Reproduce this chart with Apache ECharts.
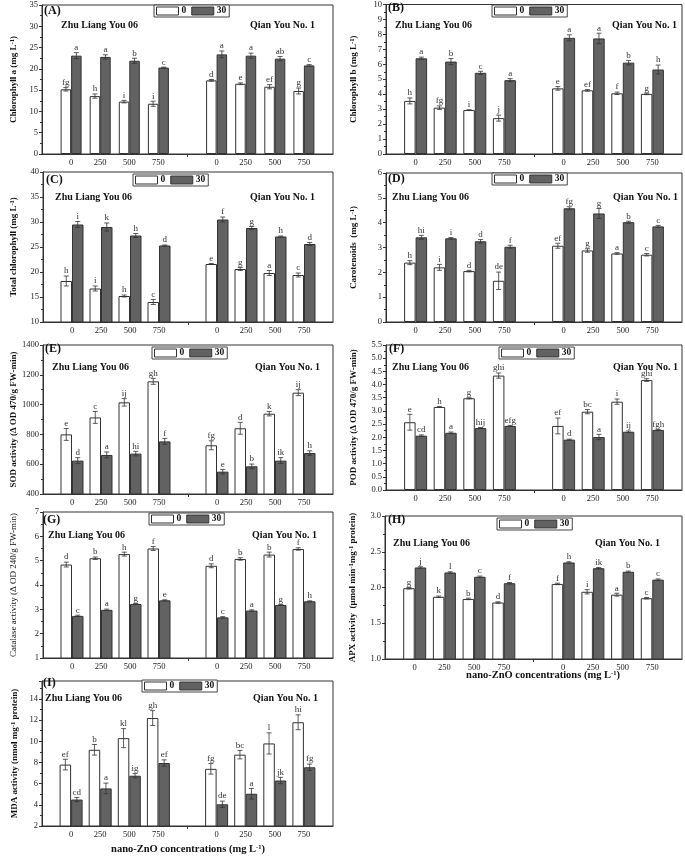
<!DOCTYPE html>
<html><head><meta charset="utf-8">
<script src="https://cdn.jsdelivr.net/npm/echarts@6/dist/echarts.min.js"></script>
<style>html,body{margin:0;padding:0;background:#fff}#c{width:685px;height:858px}</style>
</head><body><div id="c"></div>
<script>
// ---------------- DATA ----------------
const SERIES_NAMES = ['0', '30'];
const CONC = ['0', '250', '500', '750'];
const CULTIVARS = ['Zhu Liang You 06', 'Qian You No. 1'];
// each array: 4 values for Zhu Liang You 06 (0,250,500,750), then 4 for Qian You No. 1

// (A) Chlorophyll a
const A_val0  = [15.2, 13.6, 12.3, 11.8, 17.3, 16.5, 15.8, 14.8];
const A_err0  = [0.4, 0.5, 0.3, 0.6, 0.2, 0.2, 0.5, 0.7];
const A_let0  = ['fg','h','i','i','d','e','ef','g'];
const A_val30 = [23.1, 22.8, 21.9, 20.3, 23.4, 23.1, 22.4, 20.8];
const A_err30 = [0.7, 0.5, 0.6, 0.1, 0.8, 0.6, 0.5, 0.2];
const A_let30 = ['a','a','b','c','a','a','ab','c'];

// (B) Chlorophyll b
const B_val0  = [3.55, 3.1, 2.94, 2.4, 4.39, 4.26, 4.06, 4.02];
const B_err0  = [0.2, 0.12, 0.02, 0.2, 0.12, 0.05, 0.08, 0.05];
const B_let0  = ['h','fg','i','j','e','ef','f','g'];
const B_val30 = [6.4, 6.18, 5.43, 4.94, 7.77, 7.73, 6.11, 5.65];
const B_err30 = [0.08, 0.2, 0.1, 0.1, 0.2, 0.35, 0.15, 0.3];
const B_let30 = ['a','b','c','a','a','a','b','h'];

// (C) Total chlorophyll
const C_val0  = [18.2, 16.7, 15.2, 14.0, 21.6, 20.6, 19.8, 19.4];
const C_err0  = [1.0, 0.5, 0.2, 0.5, 0.1, 0.3, 0.5, 0.4];
const C_let0  = ['h','i','h','c','e','g','a','c'];
const C_val30 = [29.5, 29.0, 27.3, 25.3, 30.5, 28.8, 27.1, 25.6];
const C_err30 = [0.6, 0.8, 0.4, 0.1, 0.5, 0.3, 0.1, 0.3];
const C_let30 = ['i','k','h','d','f','g','h','d'];

// (D) Carotenoids
const D_val0  = [2.39, 2.2, 2.05, 1.66, 3.07, 2.88, 2.76, 2.71];
const D_err0  = [0.08, 0.12, 0.03, 0.35, 0.1, 0.07, 0.03, 0.05];
const D_let0  = ['h','i','d','de','ef','g','a','c'];
const D_val30 = [3.41, 3.37, 3.25, 3.03, 4.58, 4.37, 4.02, 3.85];
const D_err30 = [0.08, 0.03, 0.07, 0.06, 0.06, 0.2, 0.04, 0.04];
const D_let30 = ['hi','i','d','f','fg','g','b','c'];

// (E) SOD activity
const E_val0  = [800, 914, 1015, 1156, 727, 841, 939, 1080];
const E_err0  = [40, 40, 25, 20, 30, 40, 15, 20];
const E_let0  = ['e','c','ij','gh','fg','d','k','ij'];
const E_val30 = [624, 662, 671, 753, 550, 586, 624, 675];
const E_err30 = [20, 20, 15, 20, 15, 15, 20, 15];
const E_let30 = ['d','a','hi','f','e','b','ik','h'];

// (F) POD activity
const F_val0  = [2.57, 3.15, 3.48, 4.34, 2.43, 2.97, 3.35, 4.17];
const F_err0  = [0.3, 0.02, 0.02, 0.1, 0.3, 0.08, 0.1, 0.05];
const F_let0  = ['e','h','g','ghi','ef','bc','i','ghi'];
const F_val30 = [2.06, 2.17, 2.35, 2.43, 1.91, 2.01, 2.21, 2.28];
const F_err30 = [0.03, 0.03, 0.02, 0.02, 0.02, 0.1, 0.03, 0.02];
const F_let30 = ['cd','a','hij','efg','d','a','ij','fgh'];

// (G) Catalase activity
const G_val0  = [4.84, 5.10, 5.27, 5.5, 4.79, 5.07, 5.25, 5.48];
const G_err0  = [0.1, 0.05, 0.08, 0.08, 0.08, 0.05, 0.1, 0.05];
const G_let0  = ['d','b','h','f','d','b','b','f'];
const G_val30 = [2.73, 2.98, 3.22, 3.37, 2.67, 2.95, 3.18, 3.33];
const G_err30 = [0.03, 0.03, 0.02, 0.02, 0.03, 0.03, 0.02, 0.02];
const G_let30 = ['c','a','g','e','c','a','g','h'];

// (H) APX activity
const H_val0  = [1.99, 1.87, 1.84, 1.79, 2.05, 1.94, 1.90, 1.85];
const H_err0  = [0.01, 0.01, 0.01, 0.01, 0.01, 0.03, 0.02, 0.01];
const H_let0  = ['g','k','b','d','f','i','a','c'];
const H_val30 = [2.28, 2.21, 2.15, 2.06, 2.35, 2.27, 2.22, 2.11];
const H_err30 = [0.01, 0.01, 0.01, 0.01, 0.01, 0.01, 0.01, 0.01];
const H_let30 = ['j','l','c','f','h','ik','b','c'];

// (I) MDA activity
const I_val0  = [7.8, 9.2, 10.3, 12.2, 7.4, 8.74, 9.8, 11.8];
const I_err0  = [0.5, 0.5, 0.9, 0.7, 0.5, 0.4, 1.0, 0.7];
const I_let0  = ['ef','b','kl','gh','fg','bc','l','hi'];
const I_val30 = [4.5, 5.55, 6.75, 7.95, 4.05, 5.05, 6.3, 7.55];
const I_err30 = [0.2, 0.5, 0.2, 0.3, 0.3, 0.5, 0.3, 0.3];
const I_let30 = ['cd','a','ig','ef','de','a','jk','fg'];

// y-axis ranges [min, max, interval, decimals]
const A_axis = [0, 35, 5, 0];
const B_axis = [0, 10, 1, 0];
const C_axis = [10, 40, 5, 0];
const D_axis = [0, 6, 1, 0];
const E_axis = [400, 1400, 200, 0];
const F_axis = [0, 5.5, 0.5, 1];
const G_axis = [1, 7, 1, 0];
const H_axis = [1, 3, 0.5, 1];
const I_axis = [2, 15.7, 2, 0];

const Y_NAMES = [
  'Chlorophyll a (mg L{s|-1})',
  'Chlorophyll b (mg L{s|-1})',
  'Total chlorophyll (mg L{s|-1})',
  'Carotenoids  (mg L{s|-1})',
  'SOD activity (\u0394 OD 470/g FW-min)',
  'POD activity (\u0394 OD 470/g FW-min)',
  'Catalase activity (\u0394 OD 240/g FW-min)',
  'APX activity  (\u03bcmol min{s|-1}mg{s|-1} protein)',
  'MDA activity (nmol mg{s|-1} protein)'
];
const PANEL_LABELS = ['(A)','(B)','(C)','(D)','(E)','(F)','(G)','(H)','(I)'];
const X_TITLE = 'nano-ZnO concentrations (mg L{s|-1})';

// ---------------- LAYOUT ----------------
const FONT = '"Liberation Serif", "Times New Roman", serif';
const GRIDS = [
  {left: 42,  top: 5,   width: 291, height: 149},
  {left: 386, top: 3,   width: 296, height: 151},
  {left: 43,  top: 172, width: 290, height: 150},
  {left: 386, top: 173, width: 296, height: 149},
  {left: 43,  top: 345, width: 290, height: 149},
  {left: 386, top: 345, width: 296, height: 145},
  {left: 43,  top: 512, width: 290, height: 146},
  {left: 385, top: 516, width: 297, height: 143},
  {left: 42,  top: 681, width: 291, height: 145}
];
const NAME_GAPS = [24, 28, 25, 28, 25, 28, 25, 28, 23];
const NAME_BOLD = [true, true, true, true, true, true, false, true, true];
const LEGEND_POS = [[154,5],[492,5],[133,174],[492,173],[152,347],[499,347],[149,513],[497,518],[142,680]];
// [labelX,labelY, zlyX, zlyY, qynRightX, qynY]
const TEXT_POS = [
  [44,12, 61,25, 315,25],
  [388,9, 395,25, 677,25],
  [46,181, 55,197, 315,197],
  [388,180, 392,197, 678,197],
  [45,350, 52,367, 320,367],
  [389,350, 392,367, 678,367],
  [43,521, 48,535, 317,535],
  [388,521, 393,543, 660,543],
  [43,684, 45,698, 318,698]
];
const BAR_W = [10.5, 11.5, 11.5, 11.5, 11.5, 11.5, 11.5, 11.5, 11.5];

const PANELS = [
  {v0:A_val0,e0:A_err0,l0:A_let0,v1:A_val30,e1:A_err30,l1:A_let30,ax:A_axis},
  {v0:B_val0,e0:B_err0,l0:B_let0,v1:B_val30,e1:B_err30,l1:B_let30,ax:B_axis},
  {v0:C_val0,e0:C_err0,l0:C_let0,v1:C_val30,e1:C_err30,l1:C_let30,ax:C_axis},
  {v0:D_val0,e0:D_err0,l0:D_let0,v1:D_val30,e1:D_err30,l1:D_let30,ax:D_axis},
  {v0:E_val0,e0:E_err0,l0:E_let0,v1:E_val30,e1:E_err30,l1:E_let30,ax:E_axis},
  {v0:F_val0,e0:F_err0,l0:F_let0,v1:F_val30,e1:F_err30,l1:F_let30,ax:F_axis},
  {v0:G_val0,e0:G_err0,l0:G_let0,v1:G_val30,e1:G_err30,l1:G_let30,ax:G_axis},
  {v0:H_val0,e0:H_err0,l0:H_let0,v1:H_val30,e1:H_err30,l1:H_let30,ax:H_axis},
  {v0:I_val0,e0:I_err0,l0:I_let0,v1:I_val30,e1:I_err30,l1:I_let30,ax:I_axis}
];

// categories: blank slot, 4 concentrations, blank slot, 4 concentrations, blank slot
const CATS = [''].concat(CONC, [''], CONC, ['']);
function catIndex(k) { return k < 4 ? k + 1 : k + 2; }
function toCat(arr) {
  const out = CATS.map(() => '-');
  arr.forEach((v, k) => { out[catIndex(k)] = v; });
  return out;
}

const SUP = {s: {fontSize: 6.5, verticalAlign: 'top', fontWeight: 'bold', fontFamily: FONT, padding: [0,0,0,0]}};
const SUP_N = {s: {fontSize: 6.5, verticalAlign: 'top', fontWeight: 'normal', fontFamily: FONT}};

function makeRender(bw, letters) {
  return function (params, api) {
    const ci = api.value(0), v = api.value(1), e = api.value(2), s = api.value(3);
    const off = (s === 0 ? -1 : 1) * bw / 2;
    const top = api.coord([ci, v + e]);
    const bot = api.coord([ci, v - e]);
    const x = top[0] + off;
    const cap = 2.5;
    const st = {stroke: '#333', lineWidth: 0.8};
    const ch = [];
    if (e > 0) {
      ch.push({type: 'line', shape: {x1: x, y1: top[1], x2: x, y2: bot[1]}, style: st});
      ch.push({type: 'line', shape: {x1: x - cap, y1: top[1], x2: x + cap, y2: top[1]}, style: st});
      ch.push({type: 'line', shape: {x1: x - cap, y1: bot[1], x2: x + cap, y2: bot[1]}, style: st});
    }
    ch.push({type: 'text', style: {text: letters[params.dataIndex], x: x, y: top[1] - 0.5,
      align: 'center', verticalAlign: 'bottom', fontFamily: FONT, fontSize: 9, fill: '#333'}});
    return {type: 'group', children: ch};
  };
}

const grid = [], xAxis = [], yAxis = [], series = [], legend = [], graphic = [];
PANELS.forEach((p, i) => {
  const g = GRIDS[i];
  grid.push(Object.assign({show: true, borderColor: '#333', borderWidth: 1, backgroundColor: 'transparent'}, g));
  xAxis.push({
    type: 'category', gridIndex: i, data: CATS, boundaryGap: false,
    axisLine: {lineStyle: {color: '#333', width: 1}},
    axisTick: {show: true, length: 3, interval: (idx) => idx === 5, lineStyle: {color: '#333'}},
    axisLabel: {interval: 0, fontFamily: FONT, fontSize: 8.5, color: '#222', margin: 4},
    splitLine: {show: false}
  });
  const [mn, mx, iv, dec] = p.ax;
  yAxis.push({
    type: 'value', gridIndex: i, min: mn, max: mx, interval: iv,
    name: Y_NAMES[i], nameLocation: 'middle', nameRotate: 90, nameGap: NAME_GAPS[i],
    nameTextStyle: {fontFamily: FONT, fontSize: 9, fontWeight: NAME_BOLD[i] ? 'bold' : 'normal', color: '#111',
      rich: NAME_BOLD[i] ? SUP : SUP_N},
    axisLine: {show: true, lineStyle: {color: '#333', width: 1}},
    axisTick: {show: true, length: 3, inside: false, lineStyle: {color: '#333'}},
    minorTick: {show: true, splitNumber: 2, length: 2, lineStyle: {color: '#333'}},
    axisLabel: {fontFamily: FONT, fontSize: 8.5, color: '#222', margin: 4, showMaxLabel: i !== 8,
      formatter: (val) => {
        const r = Math.round(val / iv) * iv;
        if (Math.abs(r - val) > 1e-6) return '';
        return val.toFixed(dec);
      }},
    splitLine: {show: false}
  });
  const bw = BAR_W[i];
  series.push({
    name: SERIES_NAMES[0], type: 'bar', xAxisIndex: i, yAxisIndex: i, data: toCat(p.v0),
    barWidth: bw, barGap: '0%',
    itemStyle: {color: '#ffffff', borderColor: '#333', borderWidth: 1}
  });
  series.push({
    name: SERIES_NAMES[1], type: 'bar', xAxisIndex: i, yAxisIndex: i, data: toCat(p.v1),
    barWidth: bw, barGap: '0%',
    itemStyle: {color: '#626262', borderColor: '#333', borderWidth: 1}
  });
  const cdata = [], letters = [];
  [[p.v0, p.e0, p.l0], [p.v1, p.e1, p.l1]].forEach(([vals, errs, lets], s) => {
    vals.forEach((v, k) => { cdata.push([catIndex(k), v, errs[k], s]); letters.push(lets[k]); });
  });
  series.push({
    type: 'custom', xAxisIndex: i, yAxisIndex: i, data: cdata, z: 5,
    encode: {x: 0, y: 1}, renderItem: makeRender(bw, letters), silent: true
  });
  legend.push({
    data: SERIES_NAMES, left: LEGEND_POS[i][0], top: LEGEND_POS[i][1], orient: 'horizontal',
    itemWidth: 22, itemHeight: 8, itemGap: 5, icon: 'rect',
    padding: [1, 3, 1, 2], borderColor: '#444', borderWidth: 1, backgroundColor: '#fff',
    textStyle: {fontFamily: FONT, fontSize: 9.5, fontWeight: 'bold', color: '#111', padding: [0, 0, 0, -2]},
    itemStyle: {borderColor: '#333', borderWidth: 1}, selectedMode: false
  });
  const t = TEXT_POS[i];
  graphic.push({type: 'text', left: t[0], top: t[1] - 7, z: 10,
    style: {text: PANEL_LABELS[i], fontFamily: FONT, fontSize: 12, fontWeight: 'bold', fill: '#111'}});
  graphic.push({type: 'text', x: t[2], y: t[3], z: 10,
    style: {text: CULTIVARS[0], fontFamily: FONT, fontSize: 10, fontWeight: 'bold', fill: '#111', verticalAlign: 'middle'}});
  graphic.push({type: 'text', x: t[4], y: t[5], z: 10,
    style: {text: CULTIVARS[1], fontFamily: FONT, fontSize: 10, fontWeight: 'bold', fill: '#111', align: 'right', verticalAlign: 'middle'}});
});
// x-axis titles under (H) and (I)
[[543, 675], [188, 849]].forEach(([x, y]) => {
  graphic.push({type: 'text', x: x, y: y, z: 10,
    style: {text: X_TITLE, rich: SUP, fontFamily: FONT, fontSize: 10.5, fontWeight: 'bold', fill: '#111',
      align: 'center', verticalAlign: 'middle'}});
});

const chart = echarts.init(document.getElementById('c'), null, {renderer: 'canvas'});
chart.setOption({animation: false, backgroundColor: '#fff', grid, xAxis, yAxis, series, legend, graphic});
</script>
</body></html>
